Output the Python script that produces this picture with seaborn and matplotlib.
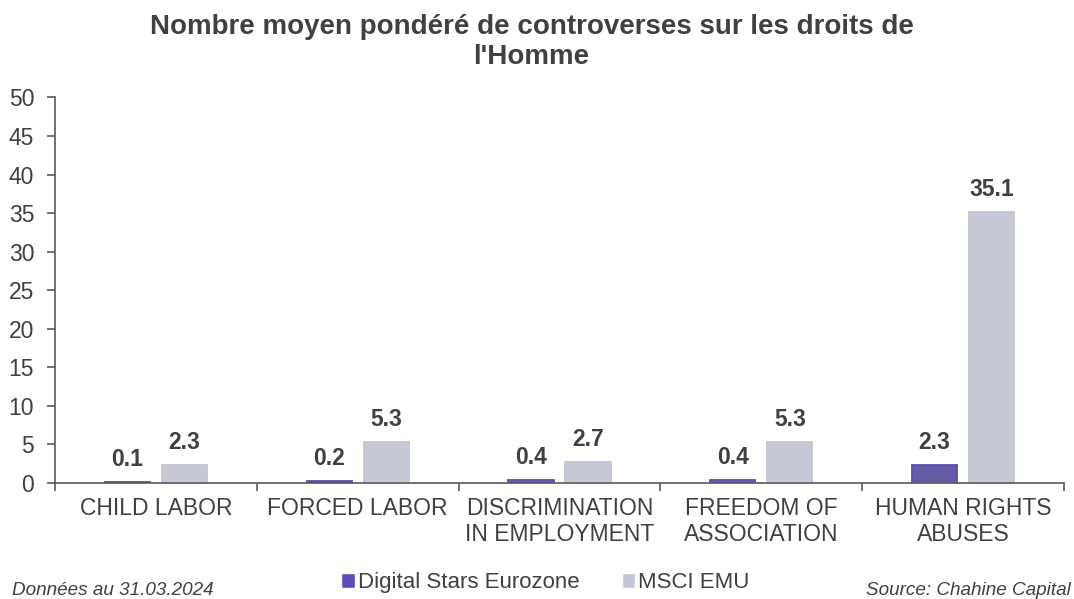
"""
Nombre moyen pondéré de controverses sur les droits de l'Homme.
Grouped bars, Digital Stars Eurozone vs MSCI EMU.
"""

import pandas as pd
import numpy as np
import matplotlib
matplotlib.use("Agg")
import matplotlib.pyplot as plt
from matplotlib.patches import Patch
import seaborn as sns

# data
categories = ["CHILD LABOR", "FORCED LABOR", "DISCRIMINATION\nIN EMPLOYMENT",
              "FREEDOM OF\nASSOCIATION", "HUMAN RIGHTS\nABUSES"]
series_names = ["Digital Stars Eurozone", "MSCI EMU"]
digital_stars = [0.1, 0.2, 0.4, 0.4, 2.3]
msci_emu = [2.3, 5.3, 2.7, 5.3, 35.1]
y_ticks = [0, 5, 10, 15, 20, 25, 30, 35, 40, 45, 50]

colors = ["#5B4FB5", "#C3C6D9"]
text_col = "#404040"
axis_col = "#595959"

sns.set_style("white")
plt.rcParams['font.family'] = ['Liberation Sans', 'DejaVu Sans']

df = pd.DataFrame({
    "cat": categories * 2,
    "serie": [series_names[0]] * len(categories) + [series_names[1]] * len(categories),
    "val": digital_stars + msci_emu,
})

fig = plt.figure(figsize=(10.74, 5.99), dpi=100)
ax = fig.add_axes([0.0512, 0.1937, 0.9395, 0.6437])

sns.barplot(data=df, x="cat", y="val", hue="serie", palette=colors,
            width=0.566, gap=0.21, ax=ax, legend=False, errorbar=None)

# thin outline so the tiny bars stay visible, like in the original
for cont, c in zip(ax.containers, colors):
    for p in cont:
        p.set_edgecolor(c)
        p.set_linewidth(1.3)
    ax.bar_label(cont, fmt="%.1f", padding=8, fontsize=16.5, fontweight="bold",
                 color=text_col)

ax.set_ylim(0, 50)
ax.set_yticks(y_ticks)
ax.set_xlim(-0.5, len(categories) - 0.5)
ax.set_xlabel("")
ax.set_ylabel("")

# spines
for s in ["top", "right"]:
    ax.spines[s].set_visible(False)
for s in ["left", "bottom"]:
    ax.spines[s].set_color(axis_col)
    ax.spines[s].set_linewidth(1.2)

ax.tick_params(axis="y", labelsize=16.5, colors=text_col, length=6, width=1.2,
               color=axis_col, left=True, pad=9)
ax.tick_params(axis="x", which="major", labelsize=16.5, colors=text_col, length=0, pad=10)
ax.set_xticks(np.arange(-0.5, len(categories), 1.0), minor=True)
ax.tick_params(axis="x", which="minor", length=6, width=1.2, color=axis_col, bottom=True)
ax.grid(False)

# title
fig.text(0.495, 0.976, "Nombre moyen pondéré de controverses sur les droits de\nl'Homme",
         ha="center", va="top", fontsize=20, fontweight="bold", color=text_col,
         linespacing=1.18)

# legend
handles = [Patch(facecolor=c, label=n) for c, n in zip(colors, series_names)]
fig.legend(handles=handles, loc="center", bbox_to_anchor=(0.508, 0.027), ncol=2,
           frameon=False, fontsize=16, handlelength=0.6, handleheight=0.6,
           handletextpad=0.15, columnspacing=1.9, labelcolor=text_col,
           borderpad=0.1)

# footer
fig.text(0.011, 0.0, "Données au 31.03.2024", ha="left", va="bottom",
         fontsize=13.6, style="italic", color=text_col)
fig.text(0.997, 0.0, "Source: Chahine Capital", ha="right", va="bottom",
         fontsize=13.6, style="italic", color=text_col)

fig.savefig("out.png", dpi=100)
